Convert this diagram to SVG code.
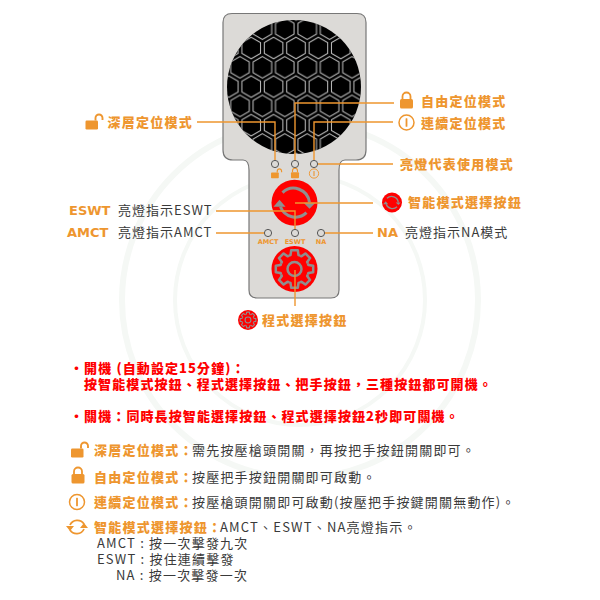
<svg xmlns="http://www.w3.org/2000/svg" width="600" height="600" viewBox="0 0 600 600">
<style>
text{font-family:"Noto Sans CJK TC","Noto Sans",sans-serif}
.o{fill:#ee962f;font-weight:900;font-size:13px;letter-spacing:1.25px}
.d{fill:#3a3a3a;font-size:13px;letter-spacing:1.2px}
.d2{fill:#3a3a3a;font-size:13px;letter-spacing:1px}
.w{fill:#ee962f;font-family:"DejaVu Sans",sans-serif;font-weight:700;font-size:13px}
.r{fill:#f00;font-weight:900;font-size:13px;letter-spacing:1.1px}
.s{fill:#ee962f;font-family:"DejaVu Sans",sans-serif;font-weight:700;font-size:6.5px;text-anchor:middle}
.l{fill:none;stroke:#ee962f;stroke-width:1.4}
.led{fill:none;stroke:#555;stroke-width:1}
.btn{fill:#f00}
.wm{fill:none;stroke:#f5f8f5}
</style>
<defs>
<pattern id="hex" patternUnits="userSpaceOnUse" x="296" y="48" width="22.4" height="38.6">
<g fill="none" stroke="#c4c4c4" stroke-width="1">
<path d="M0-10.800 9.300-5.400V5.400L0 10.800-9.300 5.400V-5.400Z"/>
<path d="M22.400-10.800 31.700-5.400V5.400L22.400 10.800 13.100 5.400V-5.400Z"/>
<path d="M0 27.800 9.300 33.200V44L0 49.400-9.300 44V33.200Z"/>
<path d="M22.400 27.800 31.700 33.200V44L22.400 49.400 13.100 44V33.200Z"/>
<path d="M11.200 8.500 20.500 13.900V24.700L11.200 30.100 1.900 24.700V13.900Z"/>
</g>
</pattern>
<clipPath id="cc"><circle cx="294" cy="87" r="67"/></clipPath>
<g id="lockc" fill="#ee962f"><rect x="-6.500" y="-2" width="13" height="9.500" rx="1.500"/><path d="M-4-2V-4.500A4 4 0 0 1 4-4.500V-2" fill="none" stroke="#ee962f" stroke-width="1.800"/></g>
<g id="locko" fill="#ee962f"><rect x="-8" y="-1.500" width="12.500" height="9" rx="1.200"/><path d="M2-1.500V-4A3.500 3.500 0 0 1 9-4V-2" fill="none" stroke="#ee962f" stroke-width="1.900"/></g>
<g id="info"><circle r="7.500" fill="none" stroke="#ee962f" stroke-width="1.500"/><rect x="-.9" y="-4.200" width="1.800" height="8.400" rx=".5" fill="#ee962f"/></g>
<g id="refresh" fill="none" stroke="#8f8f8f" stroke-width="3">
<path d="M-12-10A16 16 0 0 1 15 0"/><path d="M-14 4A16 16 0 0 0 12 10"/>
<path d="M-15-3-21 4H-9Z" fill="#8f8f8f" stroke="none"/><path d="M15 6 9 0H21Z" fill="#8f8f8f" stroke="none"/>
</g>
<path id="t" d="M-5.550-13.400-4-13.900-3.300-18.700H3.300L4-13.900 5.550-13.400"/>
<g id="gear" fill="none" stroke="#8f8f8f" stroke-width="2.500" stroke-linejoin="round">
<use href="#t"/><use href="#t" transform="rotate(45)"/><use href="#t" transform="rotate(90)"/><use href="#t" transform="rotate(135)"/><use href="#t" transform="rotate(180)"/><use href="#t" transform="rotate(225)"/><use href="#t" transform="rotate(270)"/><use href="#t" transform="rotate(315)"/>
<circle r="7"/>
</g>
</defs>
<rect width="600" height="600" fill="#fff"/>
<g id="watermark">
<circle class="wm" cx="300" cy="300" r="178" stroke-width="6"/>
<circle class="wm" cx="300" cy="300" r="125" stroke-width="4"/>
</g>
<g id="device">
<path d="M232 13.500H357Q366 13.500 366 22.500V150Q366 160 356 160H345Q339 160 339 170V290Q339 298 331 298H257Q249 298 249 290V170Q249 160 243 160H233Q223 160 223 150V22.500Q223 13.500 232 13.500Z" fill="#dcdad7" stroke="#777" stroke-width="1.200"/>
<circle cx="294" cy="87" r="67" fill="#000"/>
<rect x="227" y="20" width="134" height="134" fill="url(#hex)" clip-path="url(#cc)"/>
</g>
<g id="buttons">
<g id="btn-smart"><circle class="btn" cx="294.500" cy="202.700" r="23"/><use href="#refresh" transform="translate(294.500 202.700)"/></g>
<g id="btn-prog"><circle class="btn" cx="294.500" cy="269" r="23"/><use href="#gear" transform="translate(294.500 269)"/></g>
</g>
<g id="connectors">
<path class="l" d="M197 122H275V160"/>
<path class="l" d="M394 103H295V160"/>
<path class="l" d="M393 122H314V160"/>
<path class="l" d="M317.500 164H393"/>
<path class="l" d="M216 211H295V229"/>
<path class="l" d="M216 233H264"/>
<path class="l" d="M325 233H373"/>
<path class="l" d="M295 203H373"/>
<path class="l" d="M295 270V306"/>
</g>
<g id="leds">
<circle class="led" cx="275" cy="164" r="3.600"/><circle class="led" cx="295" cy="164" r="3.600"/><circle class="led" cx="314" cy="164" r="3.600"/>
<use href="#locko" transform="translate(276 173.500) scale(.62)"/><use href="#lockc" transform="translate(295 173.500) scale(.62)"/><use href="#info" transform="translate(314 173.500) scale(.62)"/>
<circle class="led" cx="268" cy="233" r="3.600"/><circle class="led" cx="295" cy="233" r="3.600"/><circle class="led" cx="321" cy="233" r="3.600"/>
<text class="s" x="268" y="244">AMCT</text><text class="s" x="295" y="244">ESWT</text><text class="s" x="321" y="244">NA</text>
</g>
<g id="label-deep"><use href="#locko" transform="translate(93.500 122)"/><text class="o" x="107.500" y="127">深層定位模式</text></g>
<g id="label-free"><use href="#lockc" transform="translate(406.500 101)"/><text class="o" x="421" y="106">自由定位模式</text></g>
<g id="label-cont"><use href="#info" transform="translate(406.500 122.500)"/><text class="o" x="421" y="128">連續定位模式</text></g>
<g id="label-led"><text class="o" x="400" y="169">亮燈代表使用模式</text></g>
<g id="label-smart"><circle class="btn" cx="392" cy="202.500" r="10"/><use href="#refresh" transform="translate(392 202.500) scale(.42)"/><text class="o" x="408" y="207">智能模式選擇按鈕</text></g>
<g id="label-eswt"><text class="w" x="69" y="215">ESWT</text><text class="d2" x="118" y="215">亮燈指示ESWT</text></g>
<g id="label-amct"><text class="w" x="67" y="237">AMCT</text><text class="d2" x="118" y="237">亮燈指示AMCT</text></g>
<g id="label-na"><text class="w" x="377" y="237">NA</text><text class="d2" x="405" y="237">亮燈指示NA模式</text></g>
<g id="label-prog"><circle class="btn" cx="248" cy="320" r="10"/><use href="#gear" transform="translate(248 320) scale(.42)"/><text class="o" x="262" y="325">程式選擇按鈕</text></g>
<g id="notes">
<text class="r" x="70" y="373">・開機 (自動設定15分鐘)：</text>
<text class="r" x="84" y="389">按智能模式按鈕、程式選擇按鈕、把手按鈕，三種按鈕都可開機。</text>
<text class="r" x="70" y="421">・關機：同時長按智能選擇按鈕、程式選擇按鈕2秒即可關機。</text>
<use href="#locko" transform="translate(79 450)"/><text class="o" x="94" y="455">深層定位模式：</text><text class="d" x="192" y="455">需先按壓槍頭開關，再按把手按鈕開關即可。</text>
<use href="#lockc" transform="translate(78 476)"/><text class="o" x="94" y="482">自由定位模式：</text><text class="d" x="192" y="482">按壓把手按鈕開關即可啟動。</text>
<use href="#info" transform="translate(77 502)"/><text class="o" x="94" y="507">連續定位模式：</text><text class="d" x="192" y="507">按壓槍頭開關即可啟動(按壓把手按鍵開關無動作)。</text>
<g fill="none" stroke="#ee962f" stroke-width="1.800"><path d="M70 525A8 8 0 0 1 84 524M84 529A8 8 0 0 1 70 530"/><path d="M66 526H74L70 531Z M80 528H88L84 523Z" fill="#ee962f" stroke="none"/></g>
<text class="o" x="94" y="532">智能模式選擇按鈕：</text><text class="d" x="220" y="532">AMCT、ESWT、NA亮燈指示。</text>
<text class="d" x="97" y="548">AMCT : 按一次擊發九次</text>
<text class="d" x="97" y="564">ESWT : 按住連續擊發</text>
<text class="d" x="116" y="580">NA : 按一次擊發一次</text>
</g>
</svg>
